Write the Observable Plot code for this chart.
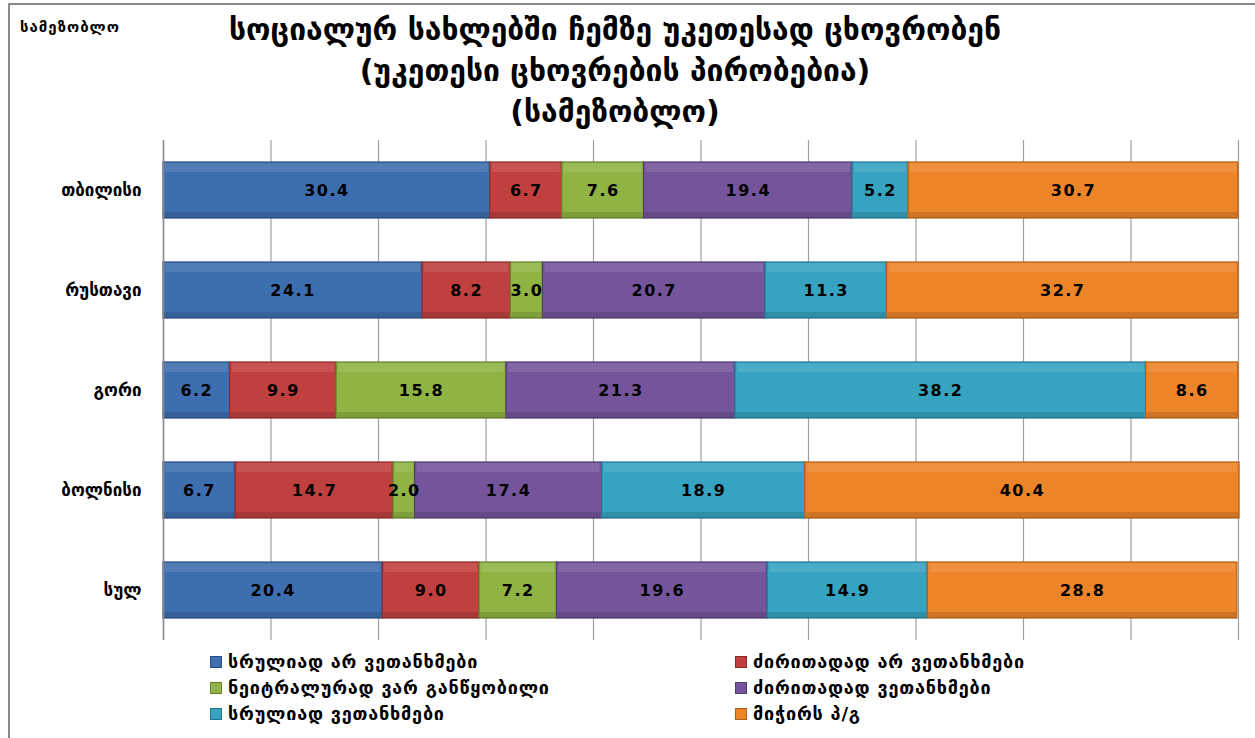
<!DOCTYPE html>
<html>
<head>
<meta charset="utf-8">
<script src="https://cdn.jsdelivr.net/npm/d3@7"></script>
<script src="https://cdn.jsdelivr.net/npm/@observablehq/plot@0.6"></script>
<style>
  html, body { margin: 0; padding: 0; background: #fff; }
  #wrap { position: relative; width: 1255px; height: 738px; overflow: hidden; font-family: "DejaVu Sans", sans-serif; }
  #frame { position: absolute; left: 8px; top: 3px; width: 1300px; height: 800px; border-left: 2px solid #8a8a8a; border-top: 2px solid #8a8a8a; }
  #corner { position: absolute; left: 20px; top: 18px; font-size: 15px; font-weight: bold; color: #000; letter-spacing: 1px; }
  #title { position: absolute; left: 0; width: 1230px; top: 9px; text-align: center; font-size: 30px; font-weight: bold; line-height: 41px; color: #000; }
  #chart { position: absolute; left: 0; top: 0; }
  #chart g[aria-label="text"] text { letter-spacing: 1.5px; }
  .leg { position: absolute; font-size: 18px; font-weight: bold; color: #000; display: flex; align-items: center; white-space: nowrap; letter-spacing: 0.8px; }
  .leg .sw { width: 10px; height: 10px; margin-right: 6px; }
</style>
</head>
<body>
<div id="wrap">
  <div id="frame"></div>
  <div id="chart"></div>
  <div id="corner">სამეზობლო</div>
  <div id="title">სოციალურ სახლებში ჩემზე უკეთესად ცხოვრობენ<br>(უკეთესი ცხოვრების პირობებია)<br>(სამეზობლო)</div>
  <div id="legend"></div>
</div>
<script>
const cities = ["თბილისი", "რუსთავი", "გორი", "ბოლნისი", "სულ"];
const seriesNames = [
  "სრულიად არ ვეთანხმები",
  "ძირითადად არ ვეთანხმები",
  "ნეიტრალურად ვარ განწყობილი",
  "ძირითადად ვეთანხმები",
  "სრულიად ვეთანხმები",
  "მიჭირს პ/გ"
];
const colors = ["#3d6eb0", "#c0403f", "#8fb443", "#74559c", "#36a3c0", "#ec8429"];
const strokes = ["#2a4f85", "#8e2b2a", "#66832c", "#523b72", "#227892", "#b35f17"];
const fullyDisagree   = [30.4, 24.1, 6.2, 6.7, 20.4];
const mostlyDisagree  = [6.7, 8.2, 9.9, 14.7, 9.0];
const neutral         = [7.6, 3.0, 15.8, 2.0, 7.2];
const mostlyAgree     = [19.4, 20.7, 21.3, 17.4, 19.6];
const fullyAgree      = [5.2, 11.3, 38.2, 18.9, 14.9];
const dontKnow        = [30.7, 32.7, 8.6, 40.4, 28.8];
const seriesValues = [fullyDisagree, mostlyDisagree, neutral, mostlyAgree, fullyAgree, dontKnow];
const gridTicks = [0, 10, 20, 30, 40, 50, 60, 70, 80, 90, 100];

const data = [];
seriesNames.forEach((s, i) => cities.forEach((c, j) => data.push({city: c, series: s, value: seriesValues[i][j]})));

const stackOpts = {x: "value", y: "city", z: "series", order: seriesNames};

const plot = Plot.plot({
  width: 1255,
  height: 650,
  marginLeft: 163,
  marginRight: 17,
  marginTop: 140,
  marginBottom: 10,
  style: {fontFamily: "DejaVu Sans, sans-serif", background: "transparent"},
  x: {domain: [0, 100], axis: null},
  y: {domain: cities, paddingInner: 0.44, paddingOuter: 0.22, label: null},
  color: {domain: seriesNames, range: colors},
  marks: [
    Plot.ruleX(gridTicks, {stroke: "#a0a0a0", strokeWidth: 1.2}),
    Plot.axisY({tickSize: 0, tickPadding: 22, fontSize: 17, fontWeight: "bold", fill: "#000", label: null}),
    Plot.barX(data, Plot.stackX({...stackOpts, fill: "series",
      stroke: d => strokes[seriesNames.indexOf(d.series)], strokeWidth: 1.2})),
    Plot.barX(data, Plot.stackX({...stackOpts, fill: "white", fillOpacity: 0.1, insetBottom: 46, insetLeft: 2, insetRight: 2, insetTop: 1})),
    Plot.barX(data, Plot.stackX({...stackOpts, fill: "black", fillOpacity: 0.12, insetTop: 50, insetLeft: 1, insetRight: 1})),
    Plot.text(data, Plot.stackX({...stackOpts, text: d => d.value.toFixed(1), fill: "#000",
      fontSize: 16, fontWeight: "bold", stroke: null})),
    Plot.ruleX([0], {stroke: "#8a8a8a", strokeWidth: 1.5})
  ]
});
document.getElementById("chart").appendChild(plot);

const legend = document.getElementById("legend");
const legPos = [[210, 651], [735, 651], [210, 677], [735, 677], [210, 703], [735, 703]];
seriesNames.forEach((s, i) => {
  const d = document.createElement("div");
  d.className = "leg";
  d.style.left = legPos[i][0] + "px";
  d.style.top = legPos[i][1] + "px";
  d.innerHTML = `<span class="sw" style="background:${colors[i]};border:1px solid ${strokes[i]}"></span><span>${s}</span>`;
  legend.appendChild(d);
});
</script>
</body>
</html>
